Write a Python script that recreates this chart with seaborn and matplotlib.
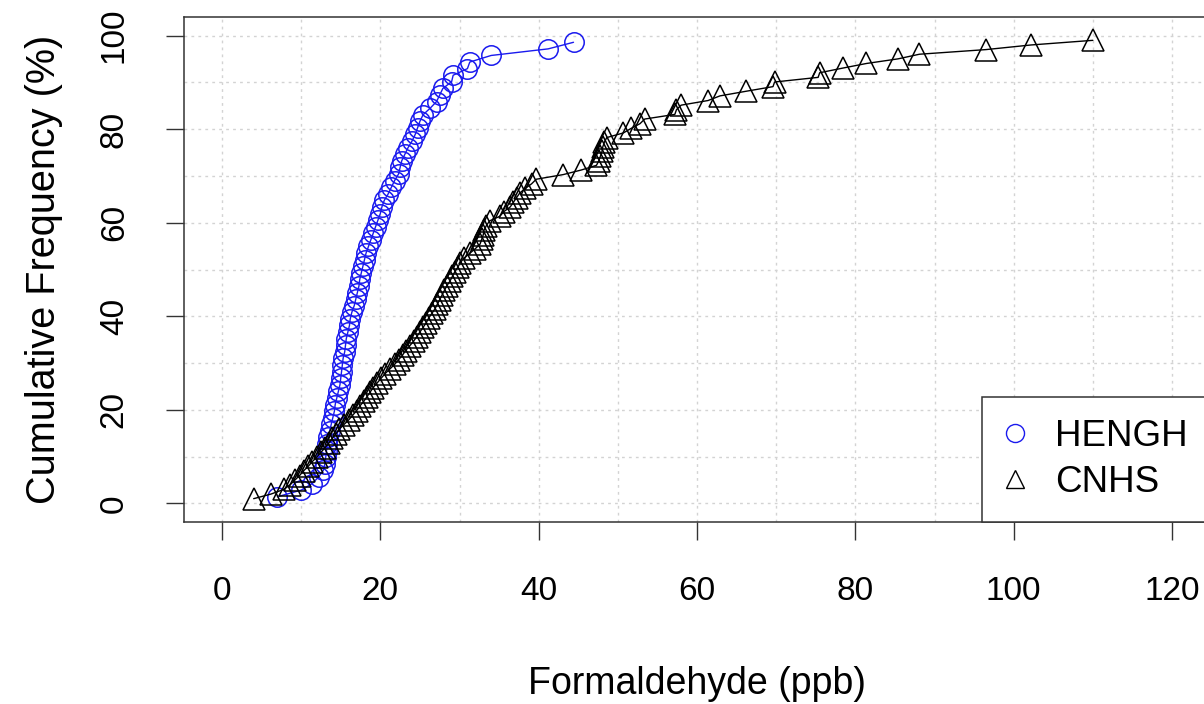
import numpy as np
import pandas as pd
import matplotlib.pyplot as plt
import seaborn as sns
from matplotlib.lines import Line2D

sites = ["HENGH", "CNHS"]
hengh_ppb = [
    7.0, 10.0, 11.4, 12.2, 12.8, 13.0, 13.1, 13.2, 13.3, 13.4,
    13.6, 13.8, 14.0, 14.2, 14.3, 14.5, 14.7, 14.9, 15.0, 15.1,
    15.2, 15.3, 15.5, 15.6, 15.7, 15.9, 16.1, 16.2, 16.4, 16.7,
    16.9, 17.1, 17.3, 17.4, 17.6, 17.8, 18.0, 18.2, 18.5, 18.8,
    19.1, 19.4, 19.7, 20.0, 20.2, 20.5, 21.0, 21.4, 21.8, 22.3,
    22.5, 22.7, 23.1, 23.5, 24.0, 24.4, 24.7, 25.0, 25.4, 26.3,
    27.1, 27.5, 27.9, 29.0, 29.2, 31.0, 31.3, 34.0, 41.2, 44.4,
]
cnhs_ppb = [
    4.0, 6.2, 7.8, 8.6, 9.2, 9.8, 10.3, 10.9, 11.4, 12.0,
    12.5, 13.0, 13.5, 13.9, 14.4, 14.8, 15.4, 16.0, 16.5, 17.0,
    17.4, 17.9, 18.3, 18.7, 19.1, 19.6, 20.1, 20.6, 21.2, 21.8,
    22.3, 22.8, 23.2, 23.7, 24.2, 24.6, 25.0, 25.4, 25.8, 26.1,
    26.5, 26.9, 27.2, 27.5, 27.8, 28.1, 28.4, 28.8, 29.1, 29.4,
    29.8, 30.1, 30.6, 31.3, 32.0, 32.6, 32.8, 33.0, 33.1, 33.4,
    33.8, 35.1, 35.6, 36.4, 36.8, 37.2, 37.6, 38.3, 39.1, 39.7,
    43.1, 45.4, 47.3, 47.6, 47.8, 48.0, 48.1, 48.3, 48.6, 50.7,
    51.7, 52.8, 53.4, 57.2, 57.4, 58.0, 61.4, 62.9, 66.2, 69.6,
    69.8, 75.3, 75.5, 78.4, 81.4, 85.4, 88.1, 96.5, 102.2, 110.0,
]
site_colors = {"HENGH": "#1a1aee", "CNHS": "black"}
site_markers = {"HENGH": "o", "CNHS": "^"}

df = pd.concat([
    pd.DataFrame({"site": "HENGH", "ppb": hengh_ppb}),
    pd.DataFrame({"site": "CNHS", "ppb": cnhs_ppb}),
], ignore_index=True)

# cumulative frequency (%) from the rank within each site
grp = df.groupby("site")["ppb"]
df["cum_freq"] = grp.rank(method="first") / (grp.transform("size") + 1) * 100

sns.set_theme(style="white")
plt.rcParams["font.family"] = ["Liberation Sans", "DejaVu Sans"]
plt.rcParams["text.color"] = "black"
plt.rcParams["axes.labelcolor"] = "black"
plt.rcParams["xtick.color"] = "black"
plt.rcParams["ytick.color"] = "black"

W, H = 1204, 704
fig = plt.figure(figsize=(W / 100, H / 100), dpi=100)
ax = fig.add_axes([184 / W, 1 - 522 / H, (1210 - 184) / W, (522 - 17) / H])

for site in sites:
    sub = df[df["site"] == site]
    sns.lineplot(
        data=sub, x="ppb", y="cum_freq", ax=ax, estimator=None, sort=True,
        color=site_colors[site], linewidth=1.0,
        marker=site_markers[site], markersize=16 if site == "CNHS" else 14,
        markerfacecolor="none", markeredgecolor=site_colors[site],
        markeredgewidth=1.1, zorder=3,
    )

ax.set_xlim(-4.8, 124.8)
ax.set_ylim(-4, 104)
ax.set_xticks(range(0, 121, 20))
ax.set_yticks(range(0, 101, 20))
ax.set_xticks(range(0, 121, 10), minor=True)
ax.set_yticks(range(0, 101, 10), minor=True)
ax.grid(which="both", color="#d3d3d3", linestyle=(0, (2, 3)), linewidth=1.0)
ax.set_axisbelow(True)

for s in ax.spines.values():
    s.set_color("#333333")
    s.set_linewidth(1.1)

ax.tick_params(which="major", direction="out", length=13, width=1.0,
               color="#333333", labelcolor="black", labelsize=24, pad=26,
               bottom=True, left=True)
ax.tick_params(which="minor", length=0)
for lab in ax.get_yticklabels():
    lab.set_rotation(90)
    lab.set_va("center")

ax.set_xlabel("Formaldehyde (ppb)", fontsize=27, labelpad=42, color="black")
ax.set_ylabel("Cumulative Frequency (%)", fontsize=28.5, labelpad=26, color="black")

handles = [
    Line2D([], [], linestyle="none", marker=site_markers[s], markersize=13,
           markerfacecolor="none", markeredgecolor=site_colors[s])
    for s in sites
]
leg = ax.legend(handles, sites, loc="lower right", fontsize=26.5,
                frameon=True, fancybox=False, framealpha=1,
                borderaxespad=0, borderpad=0.6, handlelength=0.6,
                handletextpad=0.8, labelspacing=0.3)
leg.get_frame().set_edgecolor("#333333")
leg.get_frame().set_linewidth(1.1)

fig.savefig("out.png", dpi=100)
